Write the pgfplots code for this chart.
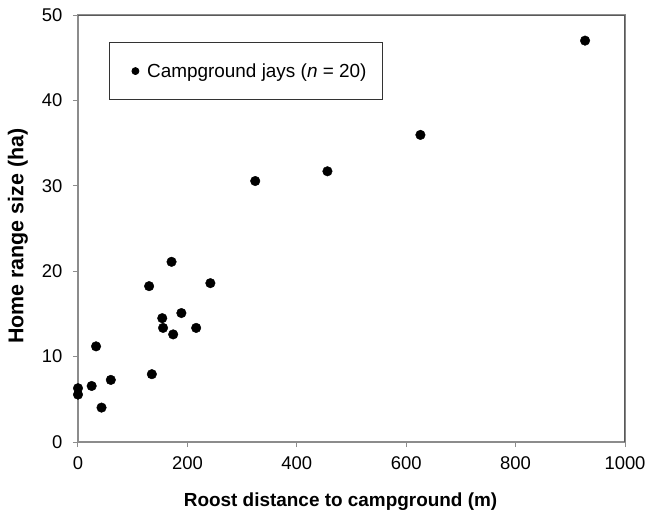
\documentclass[border=0pt]{standalone}
\usepackage{pgfplots}
\pgfplotsset{compat=1.18}
\usepackage{fontspec}
\setmainfont{Liberation Sans}
\begin{document}
\begin{tikzpicture}
\begin{axis}[
  at={(0,0)}, anchor=south west,
  scale only axis,
  width=547bp, height=427bp,
  xmin=0, xmax=1000, ymin=0, ymax=50,
  xtick={0,200,...,1000}, ytick={0,10,...,50},
  axis line style={black!45, line width=1.2bp},
  tick style={black!45, line width=1bp},
  tick align=outside,
  major tick length=5bp,
  axis x line*=box, axis y line*=box,
  xtick pos=bottom, ytick pos=left,
  /pgf/number format/assume math mode=true,
  /pgf/number format/1000 sep={},
  tick label style={font=\fontsize{18.5}{21}\selectfont},
  xticklabel style={yshift=-6bp},
  yticklabel style={xshift=-7bp},
  label style={font=\fontsize{19}{22}\selectfont\bfseries},
  xlabel={Roost distance to campground (m)},
  ylabel={Home range size (ha)},
  xlabel style={at={(axis description cs:0.48,-0.139)}, anchor=center},
  ylabel style={at={(axis description cs:-0.110,0.482)}, anchor=center,
    font=\fontsize{21.5}{24}\selectfont\bfseries},
  legend style={at={(axis description cs:0.0567,0.936)}, anchor=north west,
    draw=black!80, line width=0.8bp, inner xsep=14bp, inner ysep=18.75bp,
    font=\fontsize{19}{22}\selectfont, cells={anchor=west}},
  legend image code/.code={\path (-11.6bp,0bp) (9.3bp,0bp);\fill[black] (0bp,0bp) circle (3.5bp);},
]
\draw[black!65, line width=1.2bp] (rel axis cs:0,1) -- (rel axis cs:1,1) -- (rel axis cs:1,0);
\addplot[only marks, mark=*, mark size=4.8bp, black] coordinates {
  (0,6.3) (0,5.55) (25,6.56) (33,11.2) (43,4.03) (60,7.27)
  (130,18.25) (135,7.94) (154,14.5) (155.5,13.36) (171,21.1)
  (174,12.6) (189,15.1) (216,13.36) (242,18.6)
  (324,30.56) (456,31.7) (626,35.96) (927,47.0)
};
\legend{Campground jays (\textit{n} = 20)}
\end{axis}
\pgfresetboundingbox
\path[use as bounding box] (-78bp,-71.3bp) rectangle (569bp,442bp);
\end{tikzpicture}
\end{document}
